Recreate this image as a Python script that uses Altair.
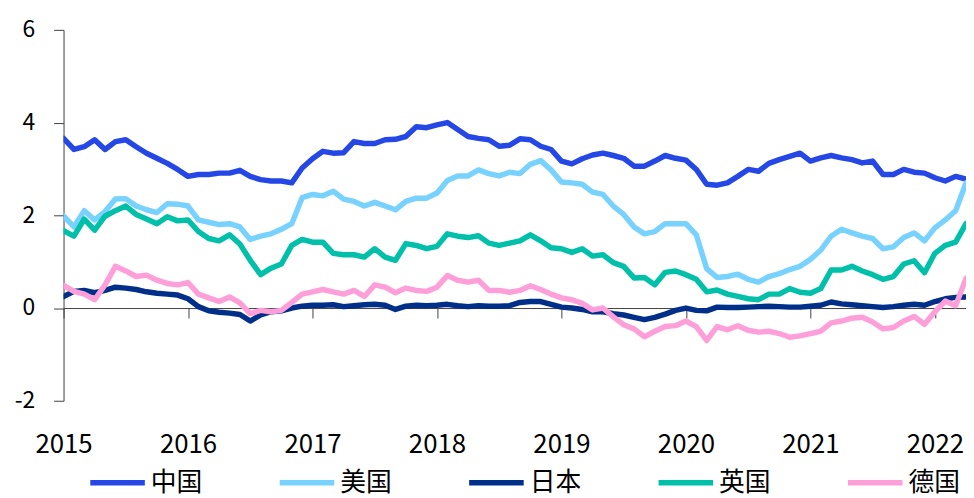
import altair as alt
import pandas as pd

# Monthly grid, Jan 2015 .. Apr 2022 (decimal years)
n_months = 88
years = [2015 + i / 12 for i in range(n_months)]

china = [3.66, 3.42, 3.48, 3.63, 3.42, 3.59, 3.63, 3.48, 3.34, 3.23, 3.12, 2.99,
         2.84, 2.88, 2.88, 2.91, 2.91, 2.97, 2.84, 2.77, 2.74, 2.74, 2.70, 3.02,
         3.22, 3.38, 3.34, 3.35, 3.59, 3.55, 3.55, 3.63, 3.64, 3.70, 3.91, 3.89,
         3.95, 4.00, 3.85, 3.70, 3.66, 3.63, 3.49, 3.51, 3.65, 3.63, 3.49, 3.42,
         3.17, 3.11, 3.22, 3.30, 3.34, 3.29, 3.23, 3.06, 3.06, 3.17, 3.29, 3.23,
         3.19, 2.99, 2.67, 2.65, 2.70, 2.84, 2.99, 2.95, 3.12, 3.20, 3.27, 3.34,
         3.17, 3.24, 3.29, 3.24, 3.20, 3.13, 3.17, 2.88, 2.88, 2.99, 2.93, 2.91,
         2.81, 2.74, 2.84, 2.78]

us = [1.99, 1.75, 2.10, 1.90, 2.08, 2.35, 2.36, 2.20, 2.12, 2.06, 2.25, 2.24,
      2.20, 1.90, 1.85, 1.80, 1.82, 1.75, 1.48, 1.55, 1.60, 1.70, 1.82, 2.38,
      2.45, 2.42, 2.52, 2.35, 2.30, 2.20, 2.28, 2.20, 2.12, 2.30, 2.37, 2.37,
      2.48, 2.75, 2.85, 2.85, 2.98, 2.90, 2.85, 2.93, 2.90, 3.10, 3.18, 2.98,
      2.72, 2.70, 2.67, 2.50, 2.45, 2.20, 2.02, 1.75, 1.60, 1.65, 1.82, 1.82,
      1.82, 1.58, 0.85, 0.66, 0.68, 0.73, 0.62, 0.56, 0.68, 0.74, 0.83, 0.90,
      1.05, 1.25, 1.55, 1.70, 1.62, 1.55, 1.50, 1.28, 1.32, 1.52, 1.62, 1.45,
      1.73, 1.90, 2.10, 2.70]

japan = [0.25, 0.36, 0.38, 0.33, 0.38, 0.45, 0.43, 0.40, 0.35, 0.32, 0.30, 0.28,
         0.20, 0.03, -0.06, -0.09, -0.11, -0.14, -0.28, -0.15, -0.08, -0.06, 0.00, 0.04,
         0.06, 0.06, 0.07, 0.03, 0.05, 0.07, 0.08, 0.06, -0.03, 0.04, 0.06, 0.05,
         0.06, 0.08, 0.05, 0.03, 0.05, 0.04, 0.04, 0.05, 0.12, 0.14, 0.14, 0.08,
         0.02, 0.00, -0.03, -0.08, -0.08, -0.12, -0.15, -0.20, -0.25, -0.20, -0.13, -0.05,
         0.00, -0.05, -0.06, 0.02, 0.01, 0.01, 0.02, 0.03, 0.04, 0.03, 0.02, 0.02,
         0.04, 0.06, 0.13, 0.09, 0.07, 0.05, 0.03, 0.01, 0.03, 0.06, 0.08, 0.06,
         0.14, 0.20, 0.23, 0.24]

uk = [1.67, 1.55, 1.92, 1.68, 1.98, 2.10, 2.20, 2.02, 1.92, 1.82, 1.97, 1.88,
      1.90, 1.65, 1.50, 1.45, 1.58, 1.38, 1.03, 0.72, 0.86, 0.95, 1.35, 1.48,
      1.42, 1.42, 1.18, 1.15, 1.15, 1.10, 1.28, 1.10, 1.03, 1.39, 1.35, 1.28,
      1.33, 1.60, 1.55, 1.52, 1.56, 1.40, 1.35, 1.40, 1.45, 1.58, 1.45, 1.30,
      1.28, 1.20, 1.28, 1.12, 1.15, 0.98, 0.90, 0.65, 0.66, 0.50, 0.77, 0.80,
      0.72, 0.62, 0.35, 0.39, 0.30, 0.25, 0.20, 0.18, 0.30, 0.30, 0.42, 0.34,
      0.32, 0.42, 0.82, 0.82, 0.90, 0.80, 0.72, 0.62, 0.68, 0.95, 1.02, 0.76,
      1.18, 1.35, 1.42, 1.82]

germany = [0.49, 0.36, 0.30, 0.18, 0.50, 0.90, 0.80, 0.68, 0.71, 0.60, 0.53, 0.50,
           0.55, 0.30, 0.22, 0.14, 0.24, 0.11, -0.12, -0.05, -0.08, -0.05, 0.12, 0.30,
           0.35, 0.40, 0.35, 0.30, 0.38, 0.25, 0.50, 0.45, 0.33, 0.43, 0.38, 0.36,
           0.45, 0.70, 0.60, 0.56, 0.60, 0.38, 0.38, 0.34, 0.38, 0.48, 0.40, 0.30,
           0.22, 0.18, 0.10, -0.04, 0.00, -0.19, -0.36, -0.45, -0.62, -0.50, -0.40, -0.38,
           -0.28, -0.40, -0.70, -0.40, -0.47, -0.38, -0.48, -0.52, -0.50, -0.55, -0.63, -0.60,
           -0.55, -0.50, -0.32, -0.28, -0.22, -0.20, -0.30, -0.45, -0.42, -0.28, -0.18, -0.35,
           -0.08, 0.15, 0.05, 0.64]

series_names = ["中国", "美国", "日本", "英国", "德国"]
series_colors = ["#2447e6", "#78d2ff", "#002f8a", "#00c0aa", "#ff9fda"]
x_ticks = [2015, 2016, 2017, 2018, 2019, 2020, 2021, 2022]
y_ticks = [-2, 0, 2, 4, 6]

rows = []
for order, (name, vals) in enumerate(zip(series_names, [china, us, japan, uk, germany])):
    for t, v in zip(years, vals):
        rows.append({"t": t, "v": v, "s": name, "o": order})
df = pd.DataFrame(rows)

font = "Noto Sans CJK SC"
axis_color = "#404040"

chart = alt.Chart(df).mark_line(
    strokeWidth=5.5, strokeJoin="round", strokeCap="round", clip=True
).encode(
    x=alt.X("t:Q",
            scale=alt.Scale(domain=[2015, 2022.25], nice=False, zero=False),
            axis=alt.Axis(values=x_ticks, format="d", title=None, offset=-93.5,
                          tickSize=10, labelPadding=115, labelFontSize=26,
                          labelFont=font, labelColor="black", labelFlush=False,
                          domainColor=axis_color, tickColor=axis_color, grid=False)),
    y=alt.Y("v:Q",
            scale=alt.Scale(domain=[-2, 6], nice=False, zero=False),
            axis=alt.Axis(values=y_ticks, title=None, tickSize=10, labelPadding=19,
                          labelExpr="'' + datum.value",
                          labelFontSize=23, labelFont=font, labelColor="black",
                          domainColor=axis_color, tickColor=axis_color, grid=False)),
    color=alt.Color("s:N",
                    scale=alt.Scale(domain=series_names, range=series_colors),
                    legend=alt.Legend(title=None, orient="none", legendX=24, legendY=426,
                                      direction="horizontal", columns=5,
                                      symbolType="stroke", symbolSize=3025,
                                      symbolStrokeWidth=5.5, labelFontSize=26,
                                      labelFont=font, labelColor="black",
                                      labelOffset=3, columnPadding=66, padding=0,
                                      labelLimit=200)),
    order=alt.Order("o:Q"),
).properties(
    width=910,
    height=374,
    autosize=alt.AutoSizeParams(type="none"),
    padding={"left": 56, "top": 20, "right": 0, "bottom": 96},
).configure_view(stroke=None)

chart.save("out.html", embed_options={"renderer": "svg", "actions": False})
